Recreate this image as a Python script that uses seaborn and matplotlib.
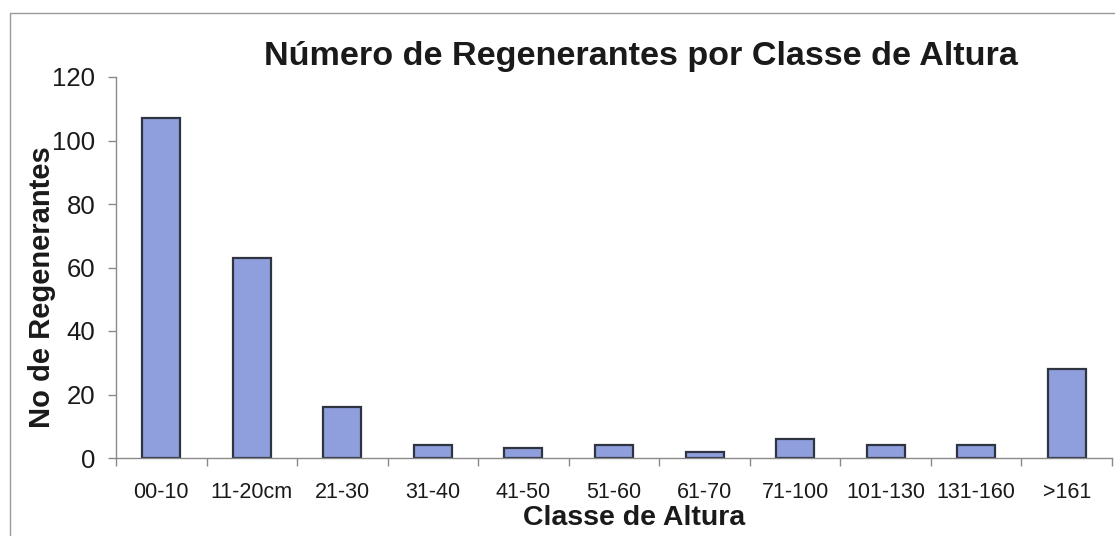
import matplotlib
matplotlib.use("Agg")
import matplotlib.pyplot as plt
from matplotlib.lines import Line2D
import seaborn as sns
import pandas as pd

categories = ["00-10", "11-20cm", "21-30", "31-40", "41-50", "51-60",
              "61-70", "71-100", "101-130", "131-160", ">161"]
values = [107, 63, 16, 4, 3, 4, 2, 6, 4, 4, 28]
yticks = [0, 20, 40, 60, 80, 100, 120]
title = "Número de Regenerantes por Classe de Altura"
xlabel = "Classe de Altura"
ylabel = "No de Regenerantes"

sns.set_theme(style="white")
plt.rcParams["font.family"] = ["Liberation Sans", "DejaVu Sans"]

df = pd.DataFrame({"classe": categories, "n": values})

fig = plt.figure(figsize=(11.15, 5.36), dpi=100)
ax = fig.add_axes([116 / 1115, 1 - 458 / 536, (1112 - 116) / 1115, (458 - 77) / 536])

sns.barplot(data=df, x="classe", y="n", ax=ax, color="#8f9fdd",
            saturation=1, width=0.42, edgecolor="#2e3440", linewidth=1.6)

ax.set_xlim(-0.5, len(categories) - 0.5)
ax.set_ylim(0, 120)
ax.set_yticks(yticks)
ax.set_xlabel("")
ax.set_ylabel("")

for s in ["top", "right"]:
    ax.spines[s].set_visible(False)
for s in ["left", "bottom"]:
    ax.spines[s].set_color("#8a8a8a")
    ax.spines[s].set_linewidth(1.0)

ax.tick_params(axis="y", which="major", left=True, length=6, width=1.0,
               color="#8a8a8a", labelsize=18.5, pad=9, labelcolor="#1a1a1a")
ax.tick_params(axis="x", which="major", bottom=True, length=0,
               labelsize=15.5, pad=17, labelcolor="#1a1a1a")
ax.set_xticks([i - 0.5 for i in range(len(categories) + 1)], minor=True)
ax.tick_params(axis="x", which="minor", bottom=True, length=6, width=1.0,
               color="#8a8a8a")

fig.text(641 / 1115, 1 - 57 / 536, title, ha="center", va="center",
         fontsize=24.6, fontweight="bold", color="#1a1a1a")
fig.text(634 / 1115, 1 - 518 / 536, xlabel, ha="center", va="center",
         fontsize=20.5, fontweight="bold", color="#1a1a1a")
fig.text(42 / 1115, 1 - 287 / 536, ylabel, ha="center", va="center",
         rotation=90, fontsize=21, fontweight="bold", color="#1a1a1a")

# outer chart-area frame
fig.add_artist(Line2D([10 / 1115, 1.0], [1 - 13 / 536, 1 - 13 / 536],
                      transform=fig.transFigure, color="#9a9a9a", lw=1.0))
fig.add_artist(Line2D([10 / 1115, 10 / 1115], [0.0, 1 - 13 / 536],
                      transform=fig.transFigure, color="#9a9a9a", lw=1.0))

fig.savefig("out.png", dpi=100)
